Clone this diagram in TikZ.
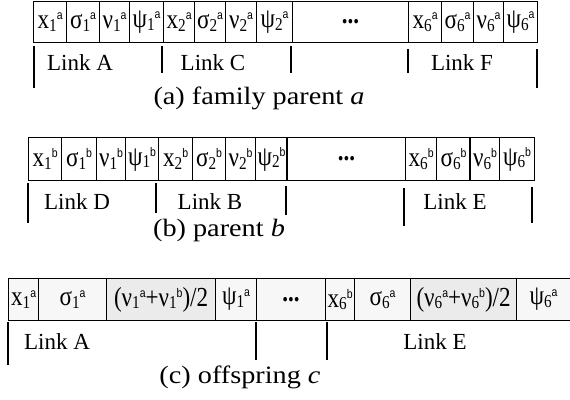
\documentclass[tikz,border=0pt]{standalone}
\usepackage{graphicx}
\usepackage{fontspec}
\setmainfont{Liberation Serif}
\newfontfamily\supfont{Liberation Sans}
\newcommand{\sv}[3]{#1\raisebox{-2.2pt}{\fontsize{14.5}{14}\selectfont #2}\raisebox{7pt}{\fontsize{10}{10}\supfont #3}}
\newcommand{\ct}[1]{\scalebox{1.05}[1.25]{\fontsize{22}{24}\selectfont #1}}
\begin{document}
\begin{tikzpicture}[x=1pt,y=-1pt,
  cell/.style={draw, line width=1.2pt, anchor=north west, inner sep=0pt},
  ra/.style={cell, minimum height=41pt},
  rb/.style={cell, minimum height=43pt},
  rc/.style={cell, minimum height=42pt, fill=gray!6},
  avg/.style={fill=gray!16},
  tick/.style={line width=1.3pt},
  lbl/.style={font=\fontsize{23}{26}\selectfont},
  captxt/.style={font=\fontsize{25}{28}\selectfont}]
\useasboundingbox (0,0) rectangle (570,399);
\fill[white] (0,0) rectangle (570,399);
% ---- row (a)
\node[ra, minimum width=33pt] (ax1) at (33,1) {\ct{\sv{x}{1}{a}}};
\node[ra, minimum width=33pt] (as1) at (66,1) {\ct{\sv{σ}{1}{a}}};
\node[ra, minimum width=30pt] (av1) at (99,1) {\ct{\sv{ν}{1}{a}}};
\node[ra, minimum width=34pt] (ap1) at (129,1) {\ct{\sv{ψ}{1}{a}}};
\node[ra, minimum width=31pt] (ax2) at (163,1) {\ct{\sv{x}{2}{a}}};
\node[ra, minimum width=31pt] (as2) at (194,1) {\ct{\sv{σ}{2}{a}}};
\node[ra, minimum width=31pt] (av2) at (225,1) {\ct{\sv{ν}{2}{a}}};
\node[ra, minimum width=36pt] (ap2) at (256,1) {\ct{\sv{ψ}{2}{a}}};
\node[ra, minimum width=116pt] (ad) at (292,1) {\ct{\textbf{...}}};
\node[ra, minimum width=33pt] (ax6) at (408,1) {\ct{\sv{x}{6}{a}}};
\node[ra, minimum width=32pt] (as6) at (441,1) {\ct{\sv{σ}{6}{a}}};
\node[ra, minimum width=30pt] (av6) at (473,1) {\ct{\sv{ν}{6}{a}}};
\node[ra, minimum width=34pt] (ap6) at (503,1) {\ct{\sv{ψ}{6}{a}}};
\draw[tick] (34,46) -- (34,88);
\draw[tick] (162,46) -- (162,73);
\draw[tick] (291,46) -- (291,73);
\draw[tick] (408,49) -- (408,73);
\draw[tick] (537,49) -- (537,88);
\node[lbl] (la1) at (80,63) {Link A};
\node[lbl] (la2) at (213,63) {Link C};
\node[lbl] (la3) at (462,63) {Link F};
\node[captxt] (capa) at (259,98) {\scalebox{1.13}[1]{(a) family parent \textit{a}}};
% ---- row (b)
\node[rb, minimum width=33pt] (bx1) at (28,137) {\ct{\sv{x}{1}{b}}};
\node[rb, minimum width=35pt] (bs1) at (61,137) {\ct{\sv{σ}{1}{b}}};
\node[rb, minimum width=29pt] (bv1) at (96,137) {\ct{\sv{ν}{1}{b}}};
\node[rb, minimum width=33pt] (bp1) at (125,137) {\ct{\sv{ψ}{1}{b}}};
\node[rb, minimum width=34pt] (bx2) at (158,137) {\ct{\sv{x}{2}{b}}};
\node[rb, minimum width=33pt] (bs2) at (192,137) {\ct{\sv{σ}{2}{b}}};
\node[rb, minimum width=30pt] (bv2) at (225,137) {\ct{\sv{ν}{2}{b}}};
\node[rb, minimum width=32pt] (bp2) at (255,137) {\ct{\sv{ψ}{2}{b}}};
\node[rb, minimum width=118pt] (bd) at (287,137) {\ct{\textbf{...}}};
\node[rb, minimum width=31pt] (bx6) at (405,137) {\ct{\sv{x}{6}{b}}};
\node[rb, minimum width=34pt] (bs6) at (436,137) {\ct{\sv{σ}{6}{b}}};
\node[rb, minimum width=29pt] (bv6) at (470,137) {\ct{\sv{ν}{6}{b}}};
\node[rb, minimum width=35pt] (bp6) at (499,137) {\ct{\sv{ψ}{6}{b}}};
\draw[line width=2.6pt] (bd.north west) -- (bd.south west);
\draw[line width=2.6pt] (bv6.north west) -- (bv6.south west);
\draw[tick] (28,183) -- (28,223);
\draw[tick] (156,183) -- (156,213);
\draw[tick] (286,186) -- (286,215);
\draw[tick] (404,188) -- (404,226);
\draw[tick] (532,187) -- (532,223);
\node[lbl] (lb1) at (77,202) {Link D};
\node[lbl] (lb2) at (210,202) {Link B};
\node[lbl] (lb3) at (455,202) {Link E};
\node[captxt] (capb) at (219,230) {\scalebox{1.13}[1]{(b) parent \textit{b}}};
% ---- row (c)
\node[rc, minimum width=30pt] (cx1) at (8,278) {\ct{\sv{x}{1}{a}}};
\node[rc, minimum width=68pt] (cs1) at (38,278) {\ct{\sv{σ}{1}{a}}};
\node[rc, avg, minimum width=109pt] (cv1) at (106,278) {\ct{(\sv{ν}{1}{a}+\sv{ν}{1}{b})/2}};
\node[rc, minimum width=41pt] (cp1) at (215,278) {\ct{\sv{ψ}{1}{a}}};
\node[rc, minimum width=69pt] (cd) at (256,278) {\ct{\textbf{...}}};
\node[rc, minimum width=29pt] (cx6) at (325,278) {\ct{\sv{x}{6}{b}}};
\node[rc, minimum width=56pt] (cs6) at (354,278) {\ct{\sv{σ}{6}{a}}};
\node[rc, avg, minimum width=106pt] (cv6) at (410,278) {\ct{(\sv{ν}{6}{a}+\sv{ν}{6}{b})/2}};
\node[rc, minimum width=58pt] (cp6) at (516,278) {\hspace*{-4pt}\ct{\sv{ψ}{6}{a}}};
\draw[tick] (8,322) -- (8,365);
\draw[tick] (256,322) -- (256,360);
\draw[tick] (327,322) -- (327,360);
\node[lbl] (lc1) at (57,342) {Link A};
\node[lbl] (lc2) at (435,342) {Link E};
\node[captxt] (capc) at (240,377) {\scalebox{1.13}[1]{(c) offspring \textit{c}}};
\end{tikzpicture}
\end{document}
